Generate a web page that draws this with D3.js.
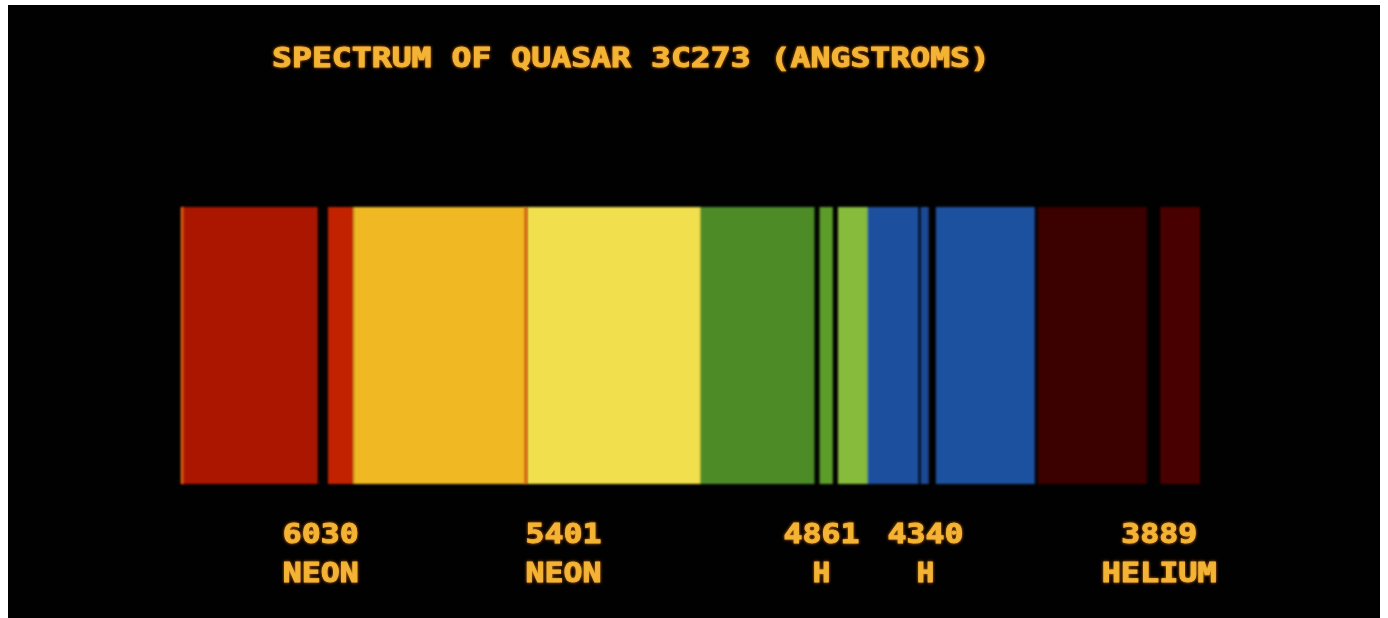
<!DOCTYPE html>
<meta charset="utf-8">
<style>
body { margin: 0; background: #fff; }
text {
  font-family: "DejaVu Sans Mono", monospace;
  font-weight: bold;
  fill: #f3b435;
  stroke: #f3b435;
  stroke-width: 0.9px;
}
</style>
<svg width="1388" height="618"></svg>
<script src="https://d3js.org/d3.v7.min.js"></script>
<script>
// spectrum bands, positions in % of the strip width
let bandStart = [0.2, 14.5, 17.0, 34.0, 51.0, 62.7, 64.5, 67.4, 72.6, 74.1, 84.1, 96.1];
let bandEnd   = [13.5, 17.0, 33.9, 51.1, 62.2, 64.0, 67.5, 72.4, 73.4, 83.8, 94.8, 100];
let bandColor = ["#ab1202", "#c22406", "#f0b823", "#f1df4d", "#4d8b25", "#5c9d2b",
                 "#86bb3a", "#1a4f9e", "#1a4a96", "#1b519f", "#3b0503", "#480605"];
let edgeLines = [0.2, 33.9];

let lineWave = ["6030", "5401", "4861", "4340", "3889"];
let lineName = ["NEON", "NEON", "H", "H", "HELIUM"];
let linePos  = [13.8, 37.6, 62.9, 73.1, 96.0];

let title = "SPECTRUM OF QUASAR 3C273 (ANGSTROMS)";

let svg = d3.select("svg");

// glow for the screen text, soft edge for the bands
let defs = svg.append("defs");
let glow = defs.append("filter").attr("id", "glow")
    .attr("x", "-10%").attr("y", "-50%").attr("width", "120%").attr("height", "200%");
glow.append("feGaussianBlur").attr("in", "SourceGraphic").attr("stdDeviation", 1.6).attr("result", "b");
glow.append("feColorMatrix").attr("in", "b").attr("type", "matrix")
    .attr("values", "1 0 0 0 0  0 0.45 0 0 0  0 0 0 0 0  0 0 0 0.9 0").attr("result", "c");
let m = glow.append("feMerge");
m.append("feMergeNode").attr("in", "c");
m.append("feMergeNode").attr("in", "SourceGraphic");

defs.append("filter").attr("id", "soft")
    .append("feGaussianBlur").attr("stdDeviation", 0.9);

svg.append("rect")
    .attr("x", 8).attr("y", 5)
    .attr("width", 1372).attr("height", 613)
    .attr("fill", "#020101");

let x = d3.scaleLinear().domain([0, 100]).range([180, 1200]);
let y0 = 207, y1 = 484;

let bands = bandStart.map(function(s, i) {
  return {start: s, end: bandEnd[i], color: bandColor[i]};
});

svg.append("g")
    .attr("filter", "url(#soft)")
    .selectAll("rect")
    .data(bands)
    .enter()
    .append("rect")
    .attr("x", function(d) { return x(d.start); })
    .attr("width", function(d) { return x(d.end) - x(d.start); })
    .attr("y", y0)
    .attr("height", y1 - y0)
    .attr("fill", function(d) { return d.color; });

svg.append("g")
    .attr("filter", "url(#soft)")
    .selectAll("line")
    .data(edgeLines)
    .enter()
    .append("line")
    .attr("x1", function(d) { return x(d); })
    .attr("x2", function(d) { return x(d); })
    .attr("y1", y0)
    .attr("y2", y1)
    .attr("stroke", "#ee6a14")
    .attr("stroke-width", 2.5);

let txt = svg.append("g").attr("filter", "url(#glow)");

txt.append("text")
    .attr("x", 631)
    .attr("y", 67)
    .attr("text-anchor", "middle")
    .attr("font-size", 27)
    .attr("textLength", 718)
    .attr("lengthAdjust", "spacingAndGlyphs")
    .text(title);

txt.selectAll(".wave")
    .data(lineWave)
    .enter()
    .append("text")
    .attr("class", "wave")
    .attr("x", function(d, i) { return x(linePos[i]); })
    .attr("y", 543)
    .attr("text-anchor", "middle")
    .attr("font-size", 27)
    .attr("textLength", function(d) { return d.length * 19.5 - 2; })
    .attr("lengthAdjust", "spacingAndGlyphs")
    .text(function(d) { return d; });

txt.selectAll(".name")
    .data(lineName)
    .enter()
    .append("text")
    .attr("class", "name")
    .attr("x", function(d, i) { return x(linePos[i]); })
    .attr("y", 582)
    .attr("text-anchor", "middle")
    .attr("font-size", 27)
    .attr("textLength", function(d) { return d.length * 19.5 - 2; })
    .attr("lengthAdjust", "spacingAndGlyphs")
    .text(function(d) { return d; });
</script>
